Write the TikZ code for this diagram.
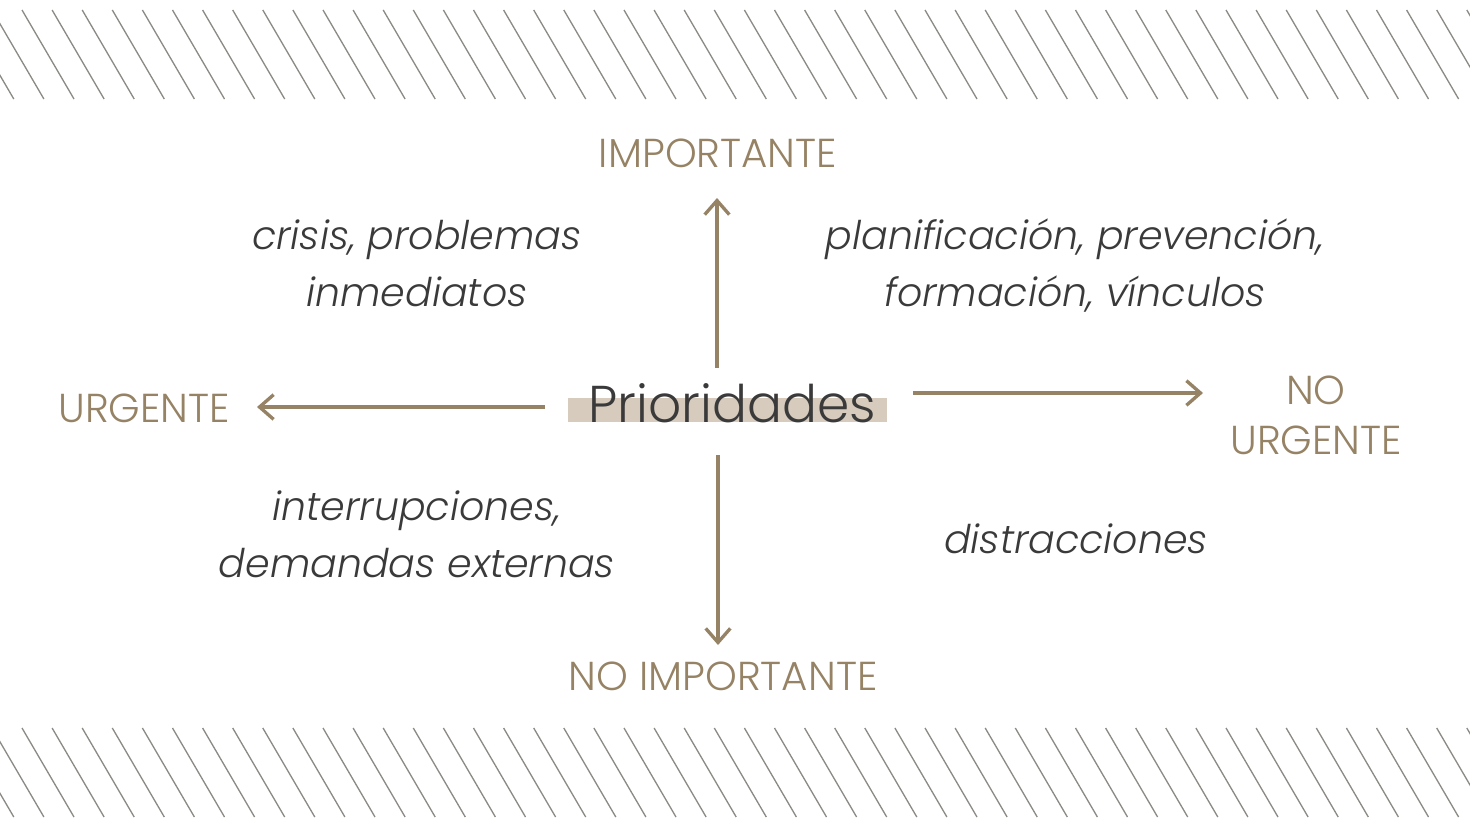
\documentclass[tikz,border=0pt]{standalone}
\usepackage{fontspec}
\setmainfont{Poppins}[UprightFont=* Light, ItalicFont=* Light Italic]
\usetikzlibrary{arrows.meta}
\definecolor{tan}{RGB}{150,130,100}
\definecolor{ink}{RGB}{58,58,58}
\definecolor{hilite}{RGB}{214,203,189}
\definecolor{hatchgray}{RGB}{140,138,132}

\begin{document}
\begin{tikzpicture}[x=0.02cm,y=-0.02cm,
	axis/.style={draw=tan,line width=1.9pt,-{Straight Barb[length=8pt,width=14pt]}},
	cat/.style={text=tan,font=\fontsize{23}{28}\selectfont,align=center,anchor=base,inner sep=0pt},
	quad/.style={text=ink,font=\itshape\fontsize{22.5}{32}\selectfont,align=center,anchor=base,inner sep=0pt},
	hatch/.style={draw=hatchgray,line width=0.75pt}]
	\useasboundingbox (0,0) rectangle (1470,835);
	% striped bands
	\begin{scope}
		\clip (0,0) rectangle (1470,835);
		\foreach \k in {-2,...,48} {
			\draw[hatch] ({22+30.1*\k},10) -- +(52,89);
			\draw[hatch] ({22+30.1*\k},728) -- +(52,89);
		}
	\end{scope}
	% centre
	\fill[hilite] (568,398) rectangle (887,422);
	\node (prio) at (732,422) [anchor=base,inner sep=0pt,text=ink,font=\fontsize{29.5}{34}\selectfont] {Prioridades};
	% axis labels
	\node (imp) at (718,167) [cat] {IMPORTANTE};
	\node (noimp) at (723,690) [cat] {NO IMPORTANTE};
	\node (urg) at (144,422) [cat] {URGENTE};
	\node (nourg) at (1316,454) [cat] {NO\\URGENTE};
	% quadrants (base = last line)
	\node (q1) at (417,306) [quad] {crisis, problemas\\inmediatos};
	\node (q2) at (1075,306) [quad] {planificación, prevención,\\formación, vínculos};
	\node (q3) at (417,577) [quad] {interrupciones,\\demandas externas};
	\node (q4) at (1076,553) [quad] {distracciones};
	% arrows
	\coordinate (upS) at (717,368);
	\coordinate (upE) at (717,198);
	\coordinate (dnS) at (718,455);
	\coordinate (dnE) at (718,645);
	\coordinate (lfS) at (545,407);
	\coordinate (lfE) at (257,407);
	\coordinate (rtS) at (913,393);
	\coordinate (rtE) at (1203,393);
	\draw[axis] (upS) -- (upE);
	\draw[axis] (dnS) -- (dnE);
	\draw[axis] (lfS) -- (lfE);
	\draw[axis] (rtS) -- (rtE);
\end{tikzpicture}
\end{document}
